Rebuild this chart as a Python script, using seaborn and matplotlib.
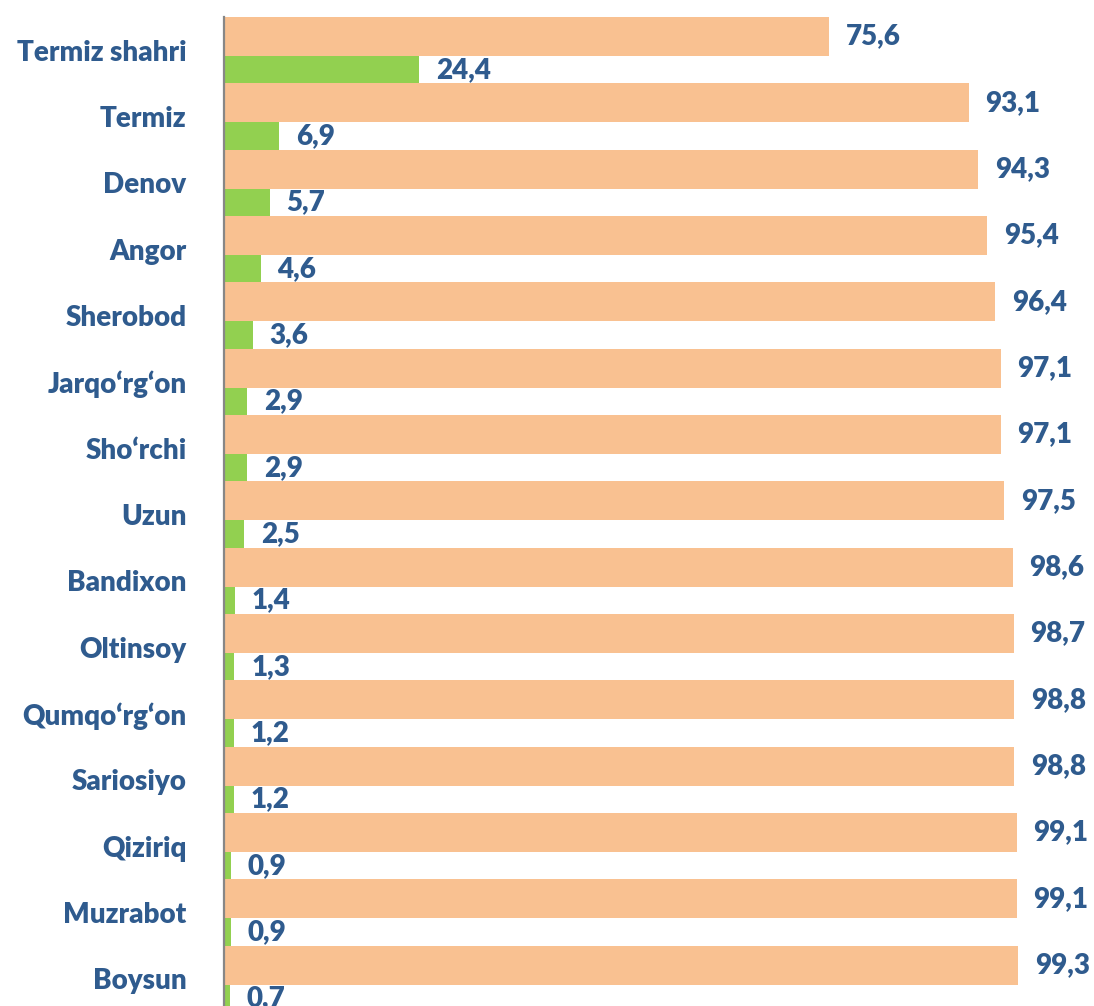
import pandas as pd
import matplotlib.pyplot as plt
import seaborn as sns

# tumanlar va ulushlar (%)
tumanlar = ["Termiz shahri", "Termiz", "Denov", "Angor", "Sherobod", "Jarqo‘rg‘on",
            "Sho‘rchi", "Uzun", "Bandixon", "Oltinsoy", "Qumqo‘rg‘on", "Sariosiyo",
            "Qiziriq", "Muzrabot", "Boysun"]
ulush_katta = [75.6, 93.1, 94.3, 95.4, 96.4, 97.1, 97.1, 97.5, 98.6, 98.7, 98.8, 98.8, 99.1, 99.1, 99.3]
ulush_kichik = [24.4, 6.9, 5.7, 4.6, 3.6, 2.9, 2.9, 2.5, 1.4, 1.3, 1.2, 1.2, 0.9, 0.9, 0.7]

rang_toq = "#2F5B8E"
ranglar = ["#F9C191", "#92D050"]

df = pd.DataFrame({
    "tuman": tumanlar * 2,
    "qiymat": ulush_katta + ulush_kichik,
    "qism": ["katta"] * len(tumanlar) + ["kichik"] * len(tumanlar),
})

sns.set_style("white")
plt.rcParams["font.family"] = ["Lato", "DejaVu Sans"]

fig = plt.figure(figsize=(10.94, 10.06), dpi=100)
ax = fig.add_axes([224 / 1094, -6 / 1006, 870 / 1094, 995 / 1006])

sns.barplot(data=df, y="tuman", x="qiymat", hue="qism", orient="h",
            palette=ranglar, width=1.0, dodge=True, saturation=1,
            linewidth=0, legend=False, ax=ax)

ax.set_xlim(0, 108.75)
ax.set_ylim(len(tumanlar) - 0.5, -0.5)

# orange bar thicker than green one
ulush = 0.588
for p in ax.containers[0]:
    p.set_height(ulush)
for p in ax.containers[1]:
    p.set_y(p.get_y() + ulush - 0.5)
    p.set_height(1 - ulush)

for cont, vals in zip(ax.containers, [ulush_katta, ulush_kichik]):
    for p, v in zip(cont, vals):
        yc = p.get_y() + p.get_height() / 2
        ax.annotate(f"{v:.1f}".replace(".", ","), xy=(v, yc), xytext=(12, 0),
                    textcoords="offset points", va="center", ha="left",
                    fontsize=20, fontweight="heavy", color=rang_toq,
                    annotation_clip=False)

ax.set_xlabel("")
ax.set_ylabel("")
ax.set_xticks([])
ax.tick_params(axis="y", length=0, pad=27, labelsize=20, labelcolor=rang_toq)
for lbl in ax.get_yticklabels():
    lbl.set_fontweight("heavy")

for s in ["top", "right", "bottom"]:
    ax.spines[s].set_visible(False)
ax.spines["left"].set_color("#878787")
ax.spines["left"].set_linewidth(1.6)

fig.savefig("out.png", dpi=100)
